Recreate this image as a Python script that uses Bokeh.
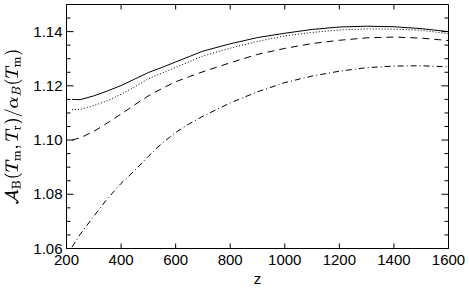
import math
from bokeh.plotting import figure
from bokeh.models import Range1d, FixedTicker, NumeralTickFormatter, TeX
from bokeh.embed import file_html
from bokeh.resources import INLINE

z = [220, 250, 300, 350, 400, 450, 500, 550, 600, 650, 700, 800, 900, 1000,
     1100, 1200, 1300, 1400, 1500, 1600]
solid = [1.1150, 1.1149, 1.1163, 1.1181, 1.1201, 1.1225, 1.1249, 1.1268, 1.1288, 1.1308,
         1.1328, 1.1355, 1.1378, 1.1394, 1.1408, 1.1417, 1.1420, 1.1418, 1.1411, 1.1400]
dotted = [1.1112, 1.1113, 1.1127, 1.1145, 1.1169, 1.1196, 1.1226, 1.1247, 1.1268, 1.1289,
          1.1310, 1.1339, 1.1364, 1.1384, 1.1397, 1.1406, 1.1410, 1.1409, 1.1405, 1.1392]
dashed = [1.1000, 1.1008, 1.1032, 1.1063, 1.1096, 1.1130, 1.1163, 1.1190, 1.1215, 1.1234,
          1.1252, 1.1285, 1.1316, 1.1338, 1.1356, 1.1368, 1.1377, 1.1380, 1.1376, 1.1367]
dashdot = [1.0605, 1.0652, 1.0719, 1.0784, 1.0840, 1.0888, 1.0940, 1.0988, 1.1028, 1.1060,
           1.1088, 1.1137, 1.1178, 1.1212, 1.1236, 1.1254, 1.1267, 1.1273, 1.1274, 1.1270]

x_ticks = [200, 400, 600, 800, 1000, 1200, 1400, 1600]
y_ticks = [1.06, 1.08, 1.10, 1.12, 1.14]
y_minor = [1.065, 1.07, 1.075, 1.085, 1.09, 1.095, 1.105, 1.11, 1.115,
           1.125, 1.13, 1.135, 1.145]
x_lo, x_hi = 200, 1600
y_lo, y_hi = 1.06, 1.15

FONT = "Liberation Sans"

p = figure(width=469, height=289, output_backend="svg", toolbar_location=None,
           x_range=Range1d(x_lo, x_hi), y_range=Range1d(y_lo, y_hi),
           x_axis_label="z",
           y_axis_label=TeX(r"\mathcal{A}_{\rm B}(T_{\rm m},T_{\rm r})/\alpha_B(T_{\rm m})"),
           min_border_left=66, min_border_right=21, min_border_top=4, min_border_bottom=40)
p.xgrid.visible = False
p.ygrid.visible = False
p.outline_line_color = "black"
p.outline_line_width = 1
p.background_fill_color = "white"
p.border_fill_color = "white"

p.line(z, solid, line_color="black", line_width=1)
p.line(z, dotted, line_color="black", line_width=1, line_dash="1 2")
p.line(z, dashed, line_color="black", line_width=1, line_dash="7 5")
p.line(z, dashdot, line_color="black", line_width=1, line_dash="6 3 1 3")

# inward tick marks on all four sides
tick = dict(length_units="screen", line_color="black", line_width=1)
p.ray(x=x_ticks, y=[y_lo] * len(x_ticks), length=5, angle=math.pi / 2, **tick)
p.ray(x=x_ticks, y=[y_hi] * len(x_ticks), length=5, angle=-math.pi / 2, **tick)
p.ray(x=[x_lo] * len(y_ticks), y=y_ticks, length=7, angle=0, **tick)
p.ray(x=[x_lo] * len(y_minor), y=y_minor, length=4, angle=0, **tick)
p.ray(x=[x_hi] * len(y_ticks), y=y_ticks, length=7, angle=math.pi, **tick)
p.ray(x=[x_hi] * len(y_minor), y=y_minor, length=4, angle=math.pi, **tick)

for ax in (p.xaxis[0], p.yaxis[0]):
    ax.axis_line_color = "black"
    ax.major_tick_out = 0
    ax.major_tick_in = 0
    ax.minor_tick_out = 0
    ax.minor_tick_in = 0
    ax.major_label_text_font = FONT
    ax.major_label_text_font_size = "15px"
    ax.major_label_text_color = "black"
    ax.axis_label_text_font = FONT
    ax.axis_label_text_font_size = "15px"
    ax.axis_label_text_font_style = "normal"
    ax.axis_label_text_color = "black"

xa = p.xaxis[0]
xa.ticker = FixedTicker(ticks=x_ticks)
xa.major_label_standoff = 6
xa.axis_label_standoff = 2

ya = p.yaxis[0]
ya.ticker = FixedTicker(ticks=y_ticks)
ya.formatter = NumeralTickFormatter(format="0.00")
ya.major_label_standoff = 4
ya.axis_label_standoff = 8
ya.axis_label_text_font_size = "14px"

open("out.html", "w").write(file_html(p, INLINE))
